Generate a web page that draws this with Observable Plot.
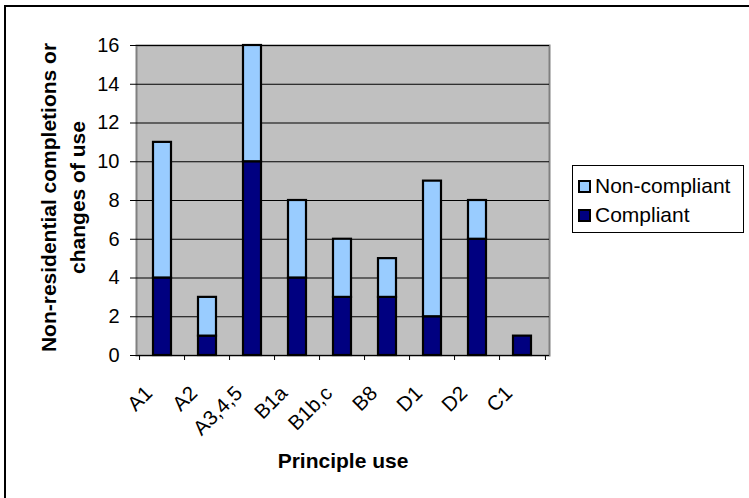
<!DOCTYPE html>
<html>
<head>
<meta charset="utf-8">
<script src="https://cdn.jsdelivr.net/npm/d3@7"></script>
<script src="https://cdn.jsdelivr.net/npm/@observablehq/plot@0.6"></script>
<style>
  html, body { margin: 0; padding: 0; background: #fff; }
  body { width: 749px; height: 498px; position: relative; overflow: hidden; font-family: "Liberation Sans", Arial, sans-serif; }
  #chart { position: absolute; left: 0; top: 0; }
  #border { position: absolute; left: 4px; top: 5px; width: 800px; height: 600px; border: 2px solid #000; box-sizing: border-box; pointer-events: none; }
  #legend { position: absolute; left: 572px; top: 165px; width: 172px; height: 68px; border: 1px solid #000; box-sizing: border-box; background: #fff; font-size: 21px; }
  .item { position: absolute; left: 4px; display: flex; align-items: center; height: 26px; }
  .sw { width: 13px; height: 13px; border: 2px solid #000; box-sizing: border-box; margin-right: 4px; margin-left: 1px; }
</style>
</head>
<body>
<div id="chart"></div>
<div id="border"></div>
<div id="legend"></div>
<script>
const categories = ["A1", "A2", "A3,4,5", "B1a", "B1b,c", "B8", "D1", "D2", "C1"];
const compliant = [4, 1, 10, 4, 3, 3, 2, 6, 1];
const nonCompliant = [7, 2, 6, 4, 3, 2, 7, 2, 0];
const seriesNames = ["Compliant", "Non-compliant"];
const seriesColors = ["#000080", "#99CCFF"];
const yTicks = [0, 2, 4, 6, 8, 10, 12, 14, 16];
const yTitle = "Non-residential completions or\nchanges of use";
const xTitle = "Principle use";

const rows = [];
categories.forEach((c, i) => rows.push({cat: c, series: seriesNames[0], value: compliant[i]}));
categories.forEach((c, i) => rows.push({cat: c, series: seriesNames[1], value: nonCompliant[i]}));

const W = 749, H = 498;
const mL = 136, mR = 200, mT = 45, mB = 143;
const step = (W - mL - mR) / categories.length;
const font = "'Liberation Sans', Arial, sans-serif";

const chart = Plot.plot({
  width: W,
  height: H,
  marginLeft: mL,
  marginRight: mR,
  marginTop: mT,
  marginBottom: mB,
  style: {fontFamily: font, fontSize: "20px", color: "#000", background: "transparent"},
  x: {type: "band", domain: categories, paddingInner: 0.59, paddingOuter: 0.295, axis: null},
  y: {domain: [0, 16], axis: null},
  color: {domain: seriesNames, range: seriesColors},
  marks: [
    Plot.frame({fill: "#C0C0C0", stroke: "#808080", strokeWidth: 2}),
    Plot.gridY(yTicks, {stroke: "#000", strokeOpacity: 1, strokeWidth: 1}),
    Plot.barY(rows, Plot.stackY({x: "cat", y: "value", fill: "series", stroke: "#000", strokeWidth: 2.2, inset: 0})),
    Plot.ruleY([0], {stroke: "#000", strokeWidth: 1}),
    Plot.axisY(yTicks, {label: null, tickSize: 6, tickPadding: 11, fontSize: 20, stroke: "#000"}),
    Plot.axisX({label: null, tickSize: 5, tickFormat: () => "", dx: -step / 2, stroke: "#000"}),
    Plot.axisX([categories[categories.length - 1]], {label: null, tickSize: 5, tickFormat: () => "", dx: step / 2, stroke: "#000"}),
    Plot.text(categories, {x: d => d, frameAnchor: "bottom", dx: -9, dy: 39, rotate: -45, textAnchor: "end", lineAnchor: "bottom", fontSize: 20.5, fill: "#000"}),
    Plot.text([yTitle], {frameAnchor: "left", dx: -75.5, dy: -3, rotate: -90, textAnchor: "middle", lineAnchor: "middle", lineHeight: 1.4, fontSize: 21, fontWeight: "bold", fill: "#000"}),
    Plot.text([xTitle], {frameAnchor: "bottom", dy: 106, textAnchor: "middle", lineAnchor: "middle", fontSize: 21, fontWeight: "bold", fill: "#000"})
  ]
});
document.getElementById("chart").appendChild(chart);

// Legend (top item = Non-compliant)
const legend = d3.select("#legend");
const order = [1, 0];
order.forEach((k, j) => {
  const it = legend.append("div").attr("class", "item").style("top", (7 + j * 29) + "px");
  it.append("div").attr("class", "sw").style("background", seriesColors[k]);
  it.append("span").text(seriesNames[k]);
});
</script>
</body>
</html>
